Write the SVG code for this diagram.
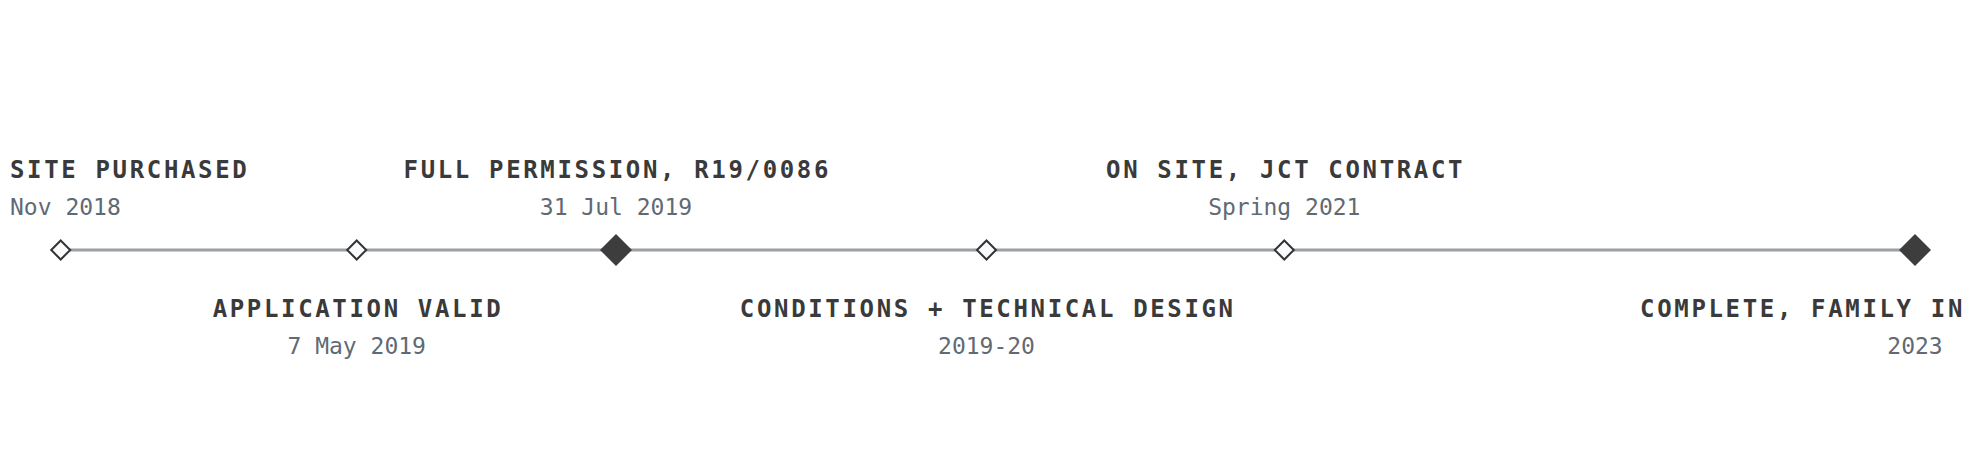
<svg xmlns="http://www.w3.org/2000/svg" width="1975" height="475" viewBox="0 0 1975 475">
<style>
.t{font-family:"DejaVu Sans Mono",monospace;font-weight:bold;font-size:24px;letter-spacing:2.65px;fill:#3a3a3a}
.d{font-family:"DejaVu Sans Mono",monospace;font-size:23px;fill:#5f6a74}
.m{text-anchor:middle}
.e{text-anchor:end}
.seg{stroke:#9aa0a6;stroke-width:3;fill:none}
.sm{fill:#fafbfc;stroke:#333;stroke-width:2}
.bg{fill:#3d3d3d}
</style>
<rect width="1975" height="475" fill="#ffffff"/>
<g id="connectors">
<line class="seg" x1="60.7" y1="250" x2="356.7" y2="250"/>
<line class="seg" x1="356.7" y1="250" x2="616" y2="250"/>
<line class="seg" x1="616" y1="250" x2="986.5" y2="250"/>
<line class="seg" x1="986.5" y1="250" x2="1284.3" y2="250"/>
<line class="seg" x1="1284.3" y1="250" x2="1915" y2="250"/>
</g>
<g id="n1">
<path class="sm" d="M60.7 240.5L70.2 250L60.7 259.5L51.2 250Z"/>
<text class="t" x="10" y="178">SITE PURCHASED</text>
<text class="d" x="10" y="215">Nov 2018</text>
</g>
<g id="n2">
<path class="sm" d="M356.7 240.5L366.2 250L356.7 259.5L347.2 250Z"/>
<text class="t m" x="358" y="317">APPLICATION VALID</text>
<text class="d m" x="356.7" y="354">7 May 2019</text>
</g>
<g id="n3">
<path class="bg" d="M616 234L632 250L616 266L600 250Z"/>
<text class="t m" x="617.3" y="178">FULL PERMISSION, R19/0086</text>
<text class="d m" x="616" y="215">31 Jul 2019</text>
</g>
<g id="n4">
<path class="sm" d="M986.5 240.5L996 250L986.5 259.5L977 250Z"/>
<text class="t m" x="987.8" y="317">CONDITIONS + TECHNICAL DESIGN</text>
<text class="d m" x="986.5" y="354">2019-20</text>
</g>
<g id="n5">
<path class="sm" d="M1284.3 240.5L1293.8 250L1284.3 259.5L1274.8 250Z"/>
<text class="t m" x="1285.6" y="178">ON SITE, JCT CONTRACT</text>
<text class="d m" x="1284.3" y="215">Spring 2021</text>
</g>
<g id="n6">
<path class="bg" d="M1915 234L1931 250L1915 266L1899 250Z"/>
<text class="t e" x="1965" y="317">COMPLETE, FAMILY IN</text>
<text class="d m" x="1915" y="354">2023</text>
</g>
</svg>
